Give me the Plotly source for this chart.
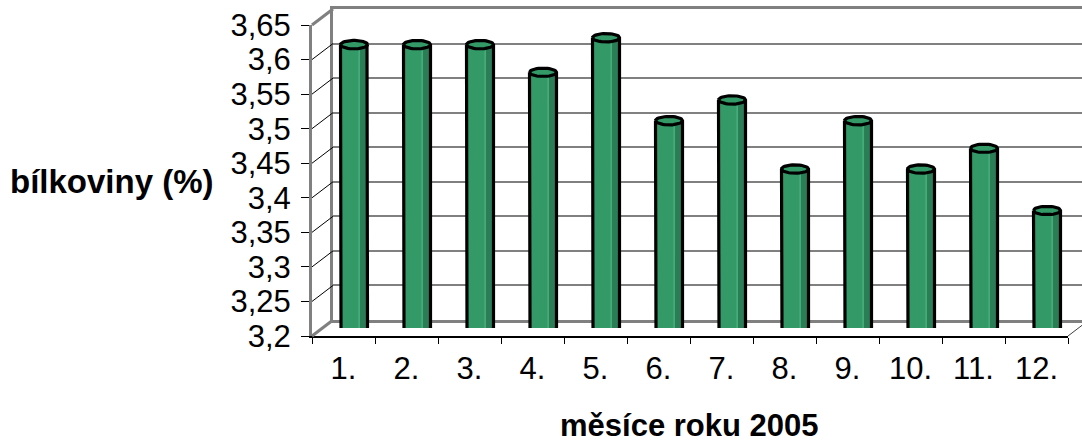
import numpy as np
import plotly.graph_objects as go

# ---------------- data ----------------
months = ["1.", "2.", "3.", "4.", "5.", "6.", "7.", "8.", "9.", "10.", "11.", "12."]
protein = [3.61, 3.61, 3.61, 3.57, 3.62, 3.50, 3.53, 3.43, 3.50, 3.43, 3.46, 3.37]
y_ticks = [3.2, 3.25, 3.3, 3.35, 3.4, 3.45, 3.5, 3.55, 3.6, 3.65]
y_ticklabels = ["3,2", "3,25", "3,3", "3,35", "3,4", "3,45", "3,5", "3,55", "3,6", "3,65"]
y_title = "bílkoviny (%)"
x_title = "měsíce roku 2005"

# ---------------- geometry (pixels) ----------------
W, H = 1082, 447
FX0, FX1 = 312, 1068      # front plane x extent
FY_TOP, FY_BOT = 25, 336  # front plane y extent
DX, DY = 21, -16          # depth offset front -> back
YMIN, YMAX = y_ticks[0], y_ticks[-1]
FONT = "Liberation Sans, Arial, sans-serif"

def px(x):
    return x / W

def py(y):
    return 1 - y / H

def fy(v, top, bot):
    return bot - (v - YMIN) / (YMAX - YMIN) * (bot - top)

# back wall
BX0, BX1 = FX0 + DX, min(FX1 + DX, W)
BY_TOP, BY_BOT = FY_TOP + DY, FY_BOT + DY
# middle plane (bars)
MX0, MX1 = FX0 + DX / 2, FX1 + DX / 2
MY_TOP, MY_BOT = FY_TOP + DY / 2, FY_BOT + DY / 2

n = len(months)
xs_num = np.arange(1, n + 1)

# cylinder geometry in data units of middle plane
hw = 13.5 / ((MX1 - MX0) / n)                  # half width (category units)
ry = 4.2 * (YMAX - YMIN) / (MY_BOT - MY_TOP)   # ellipse half-height (value units)
t = np.linspace(0, np.pi, 24)

sil_x, sil_y = [], []
strip_x, strip_y = [], []
cap_x, cap_y = [], []
hl_x, hl_y = [], []
for c, v in zip(xs_num, protein):
    px_ = [c - hw] + list(c - hw * np.cos(t)) + [c + hw] + list(c + hw * np.cos(t)) + [c - hw]
    py_ = [v] + list(YMIN - ry * np.sin(t)) + [v] + list(v + ry * np.sin(t)) + [v]
    sil_x += px_ + [None]
    sil_y += py_ + [None]
    tt = np.linspace(np.arccos(0.45), 0, 10)
    sx = list(c + hw * np.cos(tt))
    bot = list(YMIN - ry * np.sin(tt))
    topl = list(v - ry * np.sin(tt))
    strip_x += sx + sx[::-1] + [sx[0], None]
    strip_y += bot + topl[::-1] + [bot[0], None]
    hx = c + 0.38 * hw
    hl_x += [hx, hx, None]
    hl_y += [YMIN - ry * np.sin(np.arccos(0.38)), v - ry * np.sin(np.arccos(0.38)), None]
    cap_x += list(c - hw * np.cos(t)) + [None]
    cap_y += list(v - ry * np.sin(t)) + [None]

GREEN = "#339966"
DARK = "#2a7d55"
LIGHT = "#48ad7b"

fig = go.Figure()
fig.add_trace(go.Scatter(x=sil_x, y=sil_y, xaxis="x2", yaxis="y2", mode="none",
                         fill="toself", fillcolor=GREEN, hoverinfo="skip", showlegend=False))
fig.add_trace(go.Scatter(x=strip_x, y=strip_y, xaxis="x2", yaxis="y2", mode="none",
                         fill="toself", fillcolor=DARK, hoverinfo="skip", showlegend=False))
fig.add_trace(go.Scatter(x=hl_x, y=hl_y, xaxis="x2", yaxis="y2", mode="lines",
                         line=dict(color=LIGHT, width=1.5), hoverinfo="skip", showlegend=False))
fig.add_trace(go.Scatter(x=sil_x, y=sil_y, xaxis="x2", yaxis="y2", mode="lines",
                         line=dict(color="black", width=3.2), hoverinfo="skip", showlegend=False))
fig.add_trace(go.Scatter(x=cap_x, y=cap_y, xaxis="x2", yaxis="y2", mode="lines",
                         line=dict(color="black", width=3.2), hoverinfo="skip", showlegend=False))
fig.add_trace(go.Scatter(x=months, y=protein, xaxis="x3", yaxis="y3", mode="markers",
                         marker=dict(opacity=0), hoverinfo="skip", showlegend=False))
fig.add_trace(go.Scatter(x=[0.5], y=[YMIN], xaxis="x", yaxis="y", mode="markers",
                         marker=dict(opacity=0), hoverinfo="skip", showlegend=False))

GRAY = "#808080"
fig.update_layout(
    width=W, height=H,
    margin=dict(l=0, r=0, t=0, b=0, pad=0, autoexpand=False),
    paper_bgcolor="white", plot_bgcolor="rgba(0,0,0,0)",
    font=dict(family=FONT, color="black", size=31),
    showlegend=False,
    xaxis=dict(domain=[px(BX0), px(BX1)], range=[0, 1], anchor="y", automargin=False,
               showgrid=False, zeroline=False, showticklabels=False, ticks="",
               showline=True, mirror=True, linecolor=GRAY, linewidth=3),
    yaxis=dict(domain=[py(BY_BOT), py(BY_TOP)], range=[YMIN, YMAX], anchor="x", automargin=False,
               tickvals=y_ticks, showticklabels=False, ticks="",
               showgrid=True, gridcolor=GRAY, gridwidth=2, zeroline=False,
               showline=True, linecolor=GRAY, linewidth=3),
    xaxis2=dict(domain=[px(MX0), px(MX1)], range=[0.5, n + 0.5], anchor="y2",
                automargin=False, visible=False),
    yaxis2=dict(domain=[py(MY_BOT), py(MY_TOP)], range=[YMIN, YMAX], anchor="x2",
                automargin=False, visible=False),
    xaxis3=dict(domain=[px(FX0), px(FX1)], type="category", categoryarray=months,
                range=[-0.5, n - 0.5], anchor="y3", tickson="boundaries", automargin=False,
                ticks="outside", ticklen=6, tickwidth=1, tickcolor="black",
                showline=True, linecolor="black", linewidth=1.5,
                showgrid=False, zeroline=False, tickfont=dict(size=31),
                ticklabelstandoff=4),
    yaxis3=dict(domain=[py(FY_BOT), py(FY_TOP)], range=[YMIN, YMAX], anchor="x3", automargin=False,
                tickmode="array", tickvals=y_ticks, ticktext=y_ticklabels,
                ticks="outside", ticklen=8, tickwidth=1, tickcolor="black",
                showline=True, linecolor=GRAY, linewidth=3,
                showgrid=False, zeroline=False, tickfont=dict(size=31),
                ticklabelstandoff=4),
)

shapes = []
for v in y_ticks:
    y0 = fy(v, FY_TOP, FY_BOT)
    y1 = fy(v, BY_TOP, BY_BOT)
    edge = v in (YMIN, YMAX)
    shapes.append(dict(type="line", xref="paper", yref="paper",
                       x0=px(FX0), y0=py(y0), x1=px(FX0 + DX), y1=py(y1),
                       line=dict(color=GRAY if edge else "black", width=3 if edge else 1)))
shapes.append(dict(type="line", xref="paper", yref="paper",
                   x0=px(FX1), y0=py(FY_BOT), x1=px(FX1 + DX), y1=py(BY_BOT),
                   line=dict(color="#404040", width=1)))
fig.update_layout(shapes=shapes)

fig.add_annotation(text="<b>%s</b>" % y_title, xref="paper", yref="paper",
                   x=px(112), y=py(182), showarrow=False, xanchor="center", yanchor="middle",
                   font=dict(size=33, family=FONT))
fig.add_annotation(text="<b>%s</b>" % x_title, xref="paper", yref="paper",
                   x=px(689), y=py(425), showarrow=False, xanchor="center", yanchor="middle",
                   font=dict(size=31, family=FONT))

fig.write_html("out.html")
